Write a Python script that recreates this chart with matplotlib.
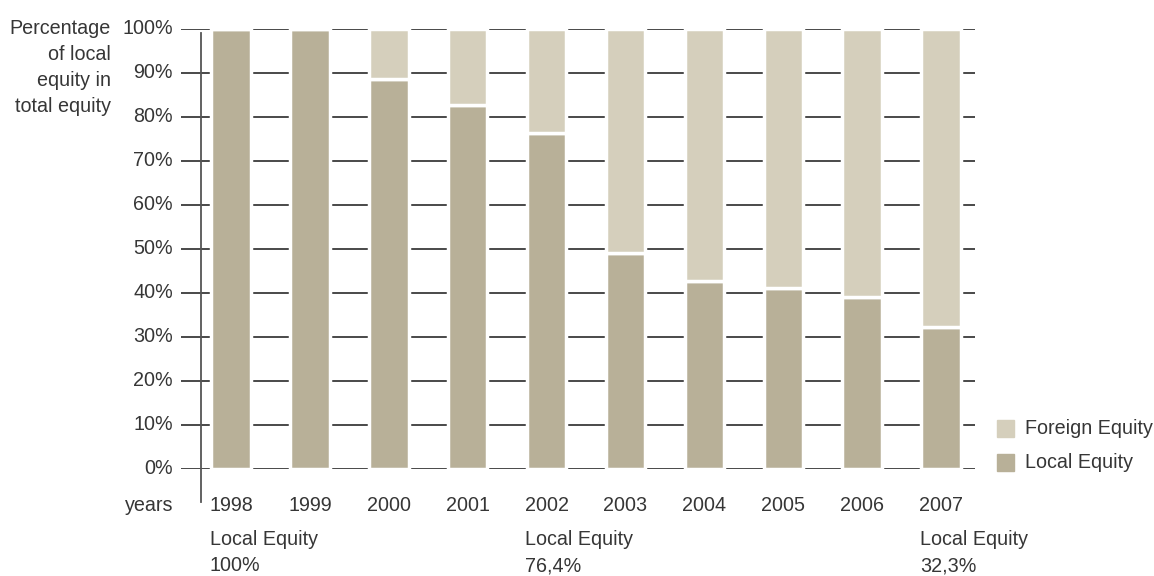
import matplotlib.pyplot as plt
import numpy as np

# Données
annees = ["1998", "1999", "2000", "2001", "2002", "2003", "2004", "2005", "2006", "2007"]
local = [100, 100, 88.6, 82.7, 76.4, 49.2, 42.8, 41.2, 39.2, 32.3]
foreign = [100 - v for v in local]
graduations = [0, 10, 20, 30, 40, 50, 60, 70, 80, 90, 100]
titre_axe = ["Percentage", "of local", "equity in", "total equity"]

couleur_local = "#b8b098"
couleur_foreign = "#d5cfbc"
couleur_texte = "#363636"
taille = 14.2

plt.rcParams["font.family"] = ["Liberation Sans", "DejaVu Sans"]

W, H = 1154, 576
fig = plt.figure(figsize=(W / 100, H / 100), dpi=100)

# Zone du graphique en pixels : x de 181 à 975, y de 29 (100%) à 469 (0%)
ax = fig.add_axes([181 / W, 1 - 469 / H, (975 - 181) / W, (469 - 29) / H])

x = np.arange(len(annees))
x_min, x_max = -0.634, 9.43
ax.set_xlim(x_min, x_max)
ax.set_ylim(0, 100)

# Lignes horizontales derrière les barres
for g in graduations:
    ax.axhline(g, color="#3a3a3a", linewidth=1.3, zorder=1)

ax.bar(x, local, width=0.5, color=couleur_local, edgecolor="white",
       linewidth=2.5, zorder=2, label="Local Equity")
ax.bar(x, foreign, bottom=local, width=0.5, color=couleur_foreign,
       edgecolor="white", linewidth=2.5, zorder=2, label="Foreign Equity")

# Axe vertical
ax.plot([-0.38, -0.38], [99.1, -7.5], color="#555555", linewidth=1.3,
        clip_on=False, zorder=3)

for s in ax.spines.values():
    s.set_visible(False)
ax.set_xticks([])
ax.set_yticks([])

# Graduations en pourcentage
for g in graduations:
    ax.text(x_min - 0.1, g, f"{g}%", ha="right", va="center",
            fontsize=taille, color=couleur_texte)

# Années
for xi, a in zip(x, annees):
    ax.text(xi, -8.4, a, ha="center", va="center", fontsize=taille,
            color=couleur_texte)
ax.text(x_min - 0.1, -8.4, "years", ha="right", va="center", fontsize=taille,
        color=couleur_texte)

# Titre de l'axe
for k, ligne in enumerate(titre_axe):
    fig.text(111 / W, 1 - (28 + 26.3 * k) / H, ligne, ha="right", va="center",
             fontsize=taille, color=couleur_texte)

# Annotations sous le graphique
for i in [0, 4, 9]:
    valeur = f"{local[i]:g}".replace(".", ",") + "%"
    ax.text(x[i] - 0.27, -16.1, "Local Equity", ha="left", va="center",
            fontsize=taille, color=couleur_texte)
    ax.text(x[i] - 0.27, -22.0, valeur, ha="left", va="center",
            fontsize=taille, color=couleur_texte)

# Légende
fig.patches.append(plt.Rectangle((997 / W, 1 - 437 / H), 17 / W, 17 / H,
                                 transform=fig.transFigure, color=couleur_foreign))
fig.patches.append(plt.Rectangle((997 / W, 1 - 471 / H), 17 / W, 17 / H,
                                 transform=fig.transFigure, color=couleur_local))
fig.text(1025 / W, 1 - 429 / H, "Foreign Equity", ha="left", va="center",
         fontsize=taille, color=couleur_texte)
fig.text(1025 / W, 1 - 463 / H, "Local Equity", ha="left", va="center",
         fontsize=taille, color=couleur_texte)

fig.savefig("out.png", dpi=100)
